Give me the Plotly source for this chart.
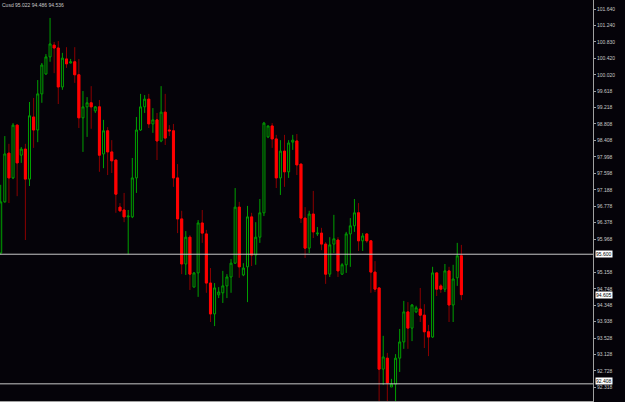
import plotly.graph_objects as go

opens = [95.63, 96.89, 98.09, 97.48, 98.78, 98.04, 98.19, 97.45, 98.98, 98.66,
         99.55, 100.04, 100.46, 100.75, 100.68, 99.72, 100.41, 100.31, 100.34, 100.02,
         98.96, 99.23, 99.33, 99.13, 99.23, 98.07, 98.64, 98.12, 97.92, 96.76,
         96.69, 96.52, 96.52, 97.48, 98.66, 99.23, 99.42, 98.81, 98.91, 98.39,
         99.10, 98.66, 98.64, 97.48, 96.47, 95.36, 96.02, 94.79, 95.14, 96.37,
         96.10, 94.89, 94.13, 94.60, 94.65, 94.82, 95.04, 95.38, 96.76, 95.09,
         95.29, 96.52, 95.58, 96.02, 96.62, 98.49, 98.76, 98.44, 97.48, 98.14,
         97.63, 98.36, 98.39, 97.82, 96.49, 95.75, 96.59, 96.10, 96.12, 95.85,
         95.11, 95.85, 95.95, 95.11, 95.34, 96.10, 96.30, 96.62, 95.93, 96.10,
         95.93, 95.16, 94.77, 92.77, 93.04, 92.33, 92.40, 93.04, 93.44, 94.18,
         93.78, 94.18, 94.25, 94.10, 93.69, 93.56, 95.14, 94.82, 94.74, 95.19,
         94.35, 95.02, 95.56]
highs = [97.31, 98.51, 98.32, 98.83, 98.80, 98.24, 98.32, 99.35, 99.45, 99.89,
         100.31, 100.53, 101.42, 100.83, 100.85, 100.56, 100.70, 100.41, 100.70, 100.41,
         99.62, 99.47, 99.74, 99.25, 99.40, 98.91, 98.73, 98.41, 97.93, 96.86,
         97.11, 96.69, 97.97, 98.98, 99.55, 99.52, 99.55, 99.20, 99.08, 99.74,
         99.55, 98.78, 98.81, 97.82, 96.67, 96.17, 96.07, 95.16, 96.44, 96.69,
         96.20, 95.26, 94.89, 94.79, 95.19, 95.11, 95.48, 97.23, 96.89, 95.38,
         96.79, 96.62, 96.39, 96.96, 98.86, 98.77, 98.83, 98.54, 98.41, 98.54,
         98.41, 98.54, 98.56, 97.83, 96.76, 96.67, 97.16, 96.27, 96.25, 95.90,
         96.02, 96.57, 96.02, 95.38, 96.15, 96.49, 96.96, 96.86, 96.12, 96.12,
         95.95, 95.43, 94.78, 93.59, 93.17, 92.53, 93.14, 93.76, 94.45, 94.42,
         94.37, 94.33, 94.77, 94.37, 93.86, 95.29, 95.15, 94.87, 95.36, 95.29,
         95.34, 95.88, 95.83]
lows = [95.60, 96.87, 96.86, 97.45, 97.03, 97.85, 95.95, 97.28, 98.22, 98.36,
        99.33, 100.02, 100.34, 100.06, 99.30, 99.65, 100.19, 100.30, 99.82, 98.71,
        98.12, 98.49, 98.69, 99.08, 97.63, 97.72, 97.55, 97.60, 96.62, 96.64,
        96.39, 95.60, 96.49, 97.11, 98.64, 99.08, 98.71, 98.59, 97.92, 98.36,
        98.29, 98.51, 97.26, 96.12, 95.11, 95.09, 94.72, 94.79, 94.55, 95.88,
        94.65, 93.93, 93.83, 94.52, 94.40, 94.52, 94.65, 95.36, 95.02, 95.06,
        94.42, 95.31, 95.34, 95.88, 96.54, 98.46, 98.22, 97.23, 97.06, 97.26,
        97.48, 98.17, 97.55, 96.37, 95.51, 95.63, 96.00, 96.05, 95.70, 94.87,
        95.04, 95.63, 95.04, 95.09, 95.14, 95.29, 96.15, 95.68, 95.68, 95.88,
        94.65, 94.67, 91.90, 92.38, 91.90, 92.33, 91.90, 92.70, 93.27, 93.27,
        93.46, 94.15, 93.93, 93.29, 93.09, 93.54, 94.57, 94.65, 94.67, 93.93,
        93.93, 94.82, 94.47]
closes = [96.89, 98.07, 97.48, 98.78, 97.85, 98.19, 97.45, 99.01, 98.66, 99.55,
          100.26, 100.46, 100.78, 100.68, 99.72, 100.43, 100.29, 100.34, 100.02, 98.96,
          99.23, 99.33, 99.23, 99.23, 98.04, 98.64, 98.12, 97.90, 97.08, 96.67,
          96.52, 96.54, 97.48, 98.66, 99.23, 99.42, 98.81, 98.91, 98.39, 99.10,
          98.46, 98.64, 97.48, 96.47, 95.36, 96.02, 95.11, 95.14, 96.37, 96.12,
          94.89, 94.13, 94.77, 94.67, 94.82, 95.04, 95.38, 96.76, 95.29, 95.26,
          96.52, 95.58, 96.02, 96.62, 98.83, 98.76, 98.44, 97.48, 98.14, 97.63,
          98.34, 98.41, 97.80, 96.49, 95.75, 96.59, 96.15, 96.12, 95.85, 95.11,
          95.83, 95.98, 95.19, 95.34, 96.10, 96.30, 96.62, 95.93, 96.05, 95.93,
          95.16, 94.74, 92.77, 93.07, 92.43, 92.40, 93.04, 93.44, 94.18, 93.78,
          94.35, 94.28, 94.10, 93.69, 93.56, 95.14, 94.74, 94.74, 95.19, 94.35,
          94.99, 95.56, 94.605]

tick_vals = [101.640, 101.240, 100.830, 100.420, 100.020, 99.618, 99.218, 98.808,
             98.408, 97.998, 97.598, 97.188, 96.778, 96.378, 95.968,
             95.158, 94.748, 94.348, 93.938, 93.528, 93.128, 92.728, 92.318]
tick_text = ["%.3f" % v for v in tick_vals]

hlines = [95.600, 92.408]
bid_price = 94.605
header_text = "Cusd 95.022 94.486 94.536"

BG = "#050309"
GREEN = "#00a000"
RED = "#ff0000"
DARKRED = "#8b0000"
GRAY = "#c8c8c8"

idx = list(range(len(opens)))
down = [i for i in idx if closes[i] < opens[i]]

fig = go.Figure()
fig.add_trace(go.Candlestick(
    x=idx, open=opens, high=highs, low=lows, close=closes,
    increasing=dict(line=dict(color=GREEN, width=1), fillcolor=BG),
    decreasing=dict(line=dict(color=DARKRED, width=1), fillcolor=RED),
    whiskerwidth=0, showlegend=False, hoverinfo="skip"))
fig.add_trace(go.Candlestick(
    x=down,
    open=[opens[i] for i in down],
    close=[closes[i] for i in down],
    high=[opens[i] for i in down],
    low=[closes[i] for i in down],
    increasing=dict(line=dict(color=RED, width=1), fillcolor=RED),
    decreasing=dict(line=dict(color=RED, width=1), fillcolor=RED),
    whiskerwidth=0, showlegend=False, hoverinfo="skip"))

for v in hlines:
    fig.add_shape(type="line", xref="paper", x0=0, x1=1, yref="y", y0=v, y1=v,
                  line=dict(color=GRAY, width=1))

label_shift = {95.600: 0, 92.408: 3, 94.605: 0}
for v in hlines + [bid_price]:
    fig.add_annotation(xref="paper", x=1, xanchor="left", xshift=2, yref="y", y=v,
                       yshift=label_shift[v],
                       text="%.3f" % v, showarrow=False, bgcolor="#ffffff",
                       font=dict(family="Liberation Sans", size=5, color="#000000"),
                       borderpad=0)

fig.add_annotation(xref="paper", yref="paper", x=0, y=1, xanchor="left", yanchor="top",
                   text=header_text, showarrow=False,
                   font=dict(family="Liberation Sans", size=5, color=GRAY))

fig.update_layout(
    width=625, height=402,
    margin=dict(l=0, r=32, t=0, b=1),
    paper_bgcolor=BG, plot_bgcolor=BG,
    xaxis=dict(range=[-0.17, 144.0], showgrid=False, zeroline=False,
               showticklabels=False, ticks="", rangeslider=dict(visible=False),
               showline=True, linecolor="#a0a0a0", linewidth=1),
    yaxis=dict(range=[91.985, 101.862], side="right", showgrid=False, zeroline=False,
               tickvals=tick_vals, ticktext=tick_text, ticks="outside", ticklen=2,
               tickcolor="#a0a0a0", showline=True, linecolor="#a0a0a0", linewidth=1,
               tickfont=dict(family="Liberation Sans", size=5, color=GRAY)),
)

fig.write_html("out.html")
